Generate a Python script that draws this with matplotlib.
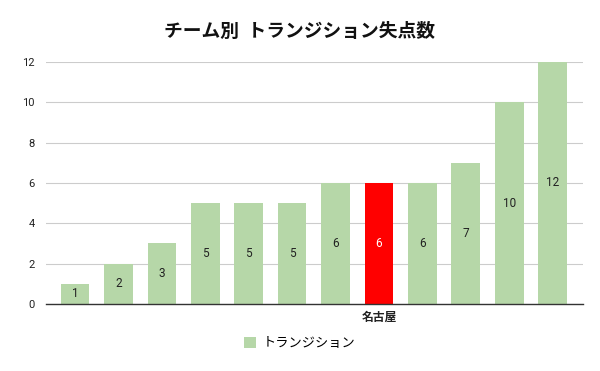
import matplotlib
matplotlib.use("Agg")
import matplotlib.pyplot as plt
from matplotlib.patches import Patch

plt.rcParams['font.family'] = ['Roboto', 'Noto Sans CJK JP', 'DejaVu Sans']

title = "チーム別  トランジション失点数"
teams = ["", "", "", "", "", "", "", "名古屋", "", "", "", ""]
values = [1, 2, 3, 5, 5, 5, 6, 6, 6, 7, 10, 12]
highlight = "名古屋"
series_name = "トランジション"
yticks = [0, 2, 4, 6, 8, 10, 12]

green = "#b6d7a8"
red = "#ff0000"

fig = plt.figure(figsize=(6, 3.71), dpi=100)
ax = fig.add_axes([0.0767, 0.1806, 0.895, 0.6525])

x = list(range(len(values)))
colors = [red if t == highlight else green for t in teams]
bars = ax.bar(x, values, width=0.66, color=colors, zorder=3)

for xi, v, t in zip(x, values, teams):
    ax.text(xi, v / 2, str(v), ha='center', va='center', fontsize=8.5,
            color='white' if t == highlight else '#222222', zorder=4)

ax.set_xlim(-0.67, len(values) - 0.3)
ax.set_ylim(0, 12)
ax.set_yticks(yticks)
ax.set_yticklabels([str(v) for v in yticks], fontsize=8, color='#222222')
ax.set_xticks(x)
ax.set_xticklabels(teams, fontsize=8.5, fontweight='bold', color='#222222',
                   family=['Noto Sans CJK JP'])
ax.tick_params(axis='both', length=0, pad=5)
ax.tick_params(axis='y', pad=8)
ax.yaxis.grid(True, color='#cccccc', linewidth=0.8, zorder=0)
for s in ['top', 'right', 'left']:
    ax.spines[s].set_visible(False)
ax.spines['bottom'].set_color('#333333')
ax.spines['bottom'].set_linewidth(1)
ax.spines['bottom'].set_zorder(5)

fig.text(0.5, 0.915, title, ha='center', va='center', fontsize=13.5,
         fontweight='bold', family=['Noto Sans CJK JP'], color='#111111')

leg = fig.legend(handles=[Patch(facecolor=green, edgecolor='none', label=series_name)],
                 loc='center', bbox_to_anchor=(0.5, 0.073), frameon=False,
                 handlelength=0.9, handleheight=0.9, handletextpad=0.5,
                 prop={'family': ['Noto Sans CJK JP'], 'size': 9.5})

fig.savefig("out.png", dpi=100)
